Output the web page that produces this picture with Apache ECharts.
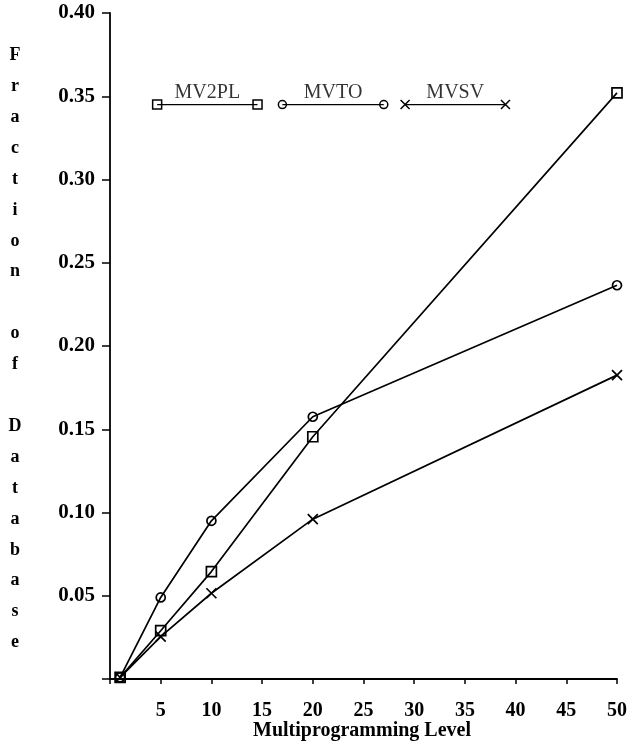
<!DOCTYPE html>
<html><head><meta charset="utf-8">
<script src="https://cdn.jsdelivr.net/npm/echarts@6/dist/echarts.min.js"></script>
<style>html,body{margin:0;padding:0;background:#fff}#c{width:632px;height:748px}</style>
</head><body><div id="c"></div>
<script>
// Data (x = multiprogramming level, y = fraction of database)
var levels = [1, 5, 10, 20, 50];
var mv2pl = [0.001, 0.029, 0.0645, 0.1455, 0.352];
var mvto  = [0.001, 0.049, 0.095, 0.1575, 0.2365];
var mvsv  = [0.001, 0.0255, 0.0515, 0.096, 0.1825];
var seriesNames = ['MV2PL', 'MVTO', 'MVSV'];
// In-plot key (drawn in data space as in the original)
var keyY = 0.345;
var keyMV2PL = [4.65, 14.55];
var keyMVTO = [17.0, 27.0];
var keyMVSV = [29.1, 39.0];
var xTicks = [5, 10, 15, 20, 25, 30, 35, 40, 45, 50];
var yTicks = [0.05, 0.10, 0.15, 0.20, 0.25, 0.30, 0.35, 0.40];
var xTitle = 'Multiprogramming Level';
var yTitle = 'Fraction of Database';

var SERIF = '"Liberation Serif","Times New Roman",serif';
var XPATH = 'path://M0,0L10,10M10,0L0,10';
var symbols = ['rect', 'circle', XPATH];
var sizes = [10, 9, 10];
var values = [mv2pl, mvto, mvsv];
var keys = [keyMV2PL, keyMVTO, keyMVSV];

function pairs(xs, ys) { return xs.map(function (x, i) { return [x, ys[i]]; }); }

var series = [];
values.forEach(function (vals, i) {
  series.push({
    type: 'line', name: seriesNames[i], data: pairs(levels, vals),
    symbol: symbols[i], symbolSize: sizes[i], showAllSymbol: true,
    lineStyle: { color: '#000', width: 1.7 },
    itemStyle: { color: 'rgba(0,0,0,0)', borderColor: '#000', borderWidth: 1.7 },
    emphasis: { disabled: true }, animation: false, z: 3
  });
  var k = keys[i];
  series.push({
    type: 'line', data: [[k[0], keyY], [k[1], keyY]],
    symbol: symbols[i], symbolSize: sizes[i] - 1,
    lineStyle: { color: '#000', width: 1.1 },
    itemStyle: { color: 'rgba(0,0,0,0)', borderColor: '#000', borderWidth: 1.5 },
    emphasis: { disabled: true }, animation: false, z: 3
  });
  series.push({
    type: 'scatter', data: [[(k[0] + k[1]) / 2, keyY]], symbolSize: 0,
    label: { show: true, position: 'top', distance: 2, formatter: seriesNames[i],
      fontFamily: SERIF, fontSize: 20, color: '#000' },
    emphasis: { disabled: true }, animation: false, silent: true
  });
});

var chart = echarts.init(document.getElementById('c'), null, { renderer: 'canvas' });
chart.setOption({
  backgroundColor: '#fff',
  animation: false,
  grid: { left: 110, right: 15, top: 13, bottom: 69, containLabel: false, outerBoundsMode: 'none' },
  xAxis: {
    type: 'value', min: 0, max: 50, interval: 5,
    axisLine: { show: true, lineStyle: { color: '#000', width: 1.8 } },
    axisTick: { show: true, length: 5, lineStyle: { color: '#000', width: 1.5 } },
    axisLabel: { fontFamily: SERIF, fontWeight: 'bold', fontSize: 20, color: '#000', margin: 22,
      formatter: function (v) { return xTicks.indexOf(v) >= 0 ? String(v) : ''; } },
    splitLine: { show: false }
  },
  yAxis: {
    type: 'value', min: 0, max: 0.4, interval: 0.05,
    axisLine: { show: true, lineStyle: { color: '#000', width: 1.8 } },
    axisTick: { show: true, length: 8, lineStyle: { color: '#000', width: 1.5 } },
    axisLabel: { fontFamily: SERIF, fontWeight: 'bold', fontSize: 21, color: '#000', margin: 15,
      formatter: function (v) {
        var r = Math.round(v * 100) / 100;
        return yTicks.indexOf(r) >= 0 ? r.toFixed(2) : '';
      } },
    splitLine: { show: false }
  },
  graphic: [{
    type: 'text', x: 15, y: 40,
    style: { text: yTitle.split('').join('\n'),
      font: 'bold 18px ' + SERIF, fill: '#000', lineHeight: 30.9, align: 'center' }
  }, {
    type: 'text', x: 362, y: 731,
    style: { text: xTitle, font: 'bold 20px ' + SERIF, fill: '#000',
      align: 'center', verticalAlign: 'middle' }
  }],
  series: series
});
</script></body></html>
